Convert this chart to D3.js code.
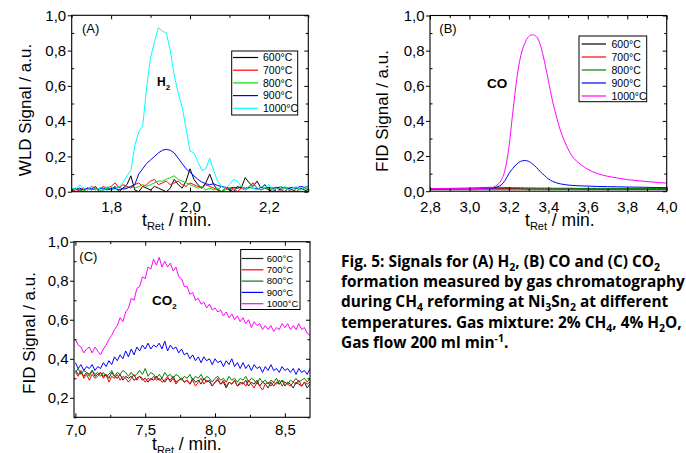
<!DOCTYPE html>
<html>
<head>
<meta charset="utf-8">
<script src="https://cdn.jsdelivr.net/npm/d3@7"></script>
<style>
  body { margin: 0; background: #fff; }
  svg text { font-family: "Liberation Sans", Arial, sans-serif; fill: #000; }
</style>
</head>
<body>
<svg id="main" width="686" height="453"></svg>
<script>
// legend entries
const temps = ["600°C", "700°C", "800°C", "900°C", "1000°C"];

// (A) H2, WLD signal, retention time in min
const timeA = [1.70,1.71,1.72,1.73,1.74,1.75,1.76,1.77,1.78,1.79,
  1.80,1.81,1.82,1.83,1.84,1.85,1.86,1.87,1.88,1.89,
  1.90,1.91,1.92,1.93,1.94,1.95,1.96,1.97,1.98,1.99,
  2.00,2.01,2.02,2.03,2.04,2.05,2.06,2.07,2.08,2.09,
  2.10,2.11,2.12,2.13,2.14,2.15,2.16,2.17,2.18,2.19,
  2.20,2.21,2.22,2.23,2.24,2.25,2.26,2.27,2.28,2.29,2.30];
const h2_600 = [.00,.02,.01,.00,.02,.01,.03,.00,.01,.02,
  .01,.03,.00,.02,.04,.09,.01,.00,.03,.02,
  .01,.03,.02,.01,.00,.02,.07,.04,.02,.06,
  .13,.07,.04,.02,.05,.10,.04,.01,.00,.02,
  .01,.00,.03,.02,.08,.05,.03,.06,.02,.04,
  .01,.00,.02,.01,.00,.02,.01,.00,.02,.01,.00];
const h2_700 = [.02,.00,.01,.02,.01,.03,.02,.01,.03,.02,
  .03,.05,.02,.04,.03,.02,.04,.05,.03,.04,
  .06,.07,.04,.05,.06,.04,.05,.06,.04,.03,
  .05,.04,.03,.02,.04,.03,.02,.01,.03,.02,
  .01,.02,.00,.02,.01,.03,.05,.02,.01,.02,
  .01,.02,.00,.01,.02,.01,.00,.02,.01,.02,.01];
const h2_800 = [.01,.02,.01,.00,.02,.01,.02,.00,.01,.02,
  .01,.02,.03,.01,.02,.03,.02,.03,.04,.03,
  .04,.05,.06,.06,.07,.08,.09,.07,.06,.05,
  .04,.03,.02,.03,.01,.02,.01,.02,.00,.01,
  .02,.01,.02,.03,.01,.02,.04,.02,.01,.02,
  .02,.01,.02,.03,.02,.01,.02,.02,.01,.02,.02];
const h2_900 = [.02,.01,.02,.01,.02,.02,.01,.02,.02,.01,
  .02,.02,.01,.02,.02,.03,.04,.10,.13,.16,
  .18,.20,.22,.235,.24,.235,.22,.19,.16,.13,
  .11,.09,.07,.055,.045,.04,.045,.035,.03,.025,
  .02,.025,.02,.025,.02,.025,.02,.015,.025,.02,
  .025,.02,.025,.02,.025,.02,.025,.02,.03,.025,.03];
const h2_1000 = [.02,.01,.04,.02,.01,.03,.01,.02,.00,.03,
  .02,.01,.03,.05,.09,.12,.26,.34,.37,.59,
  .76,.85,.93,.91,.90,.80,.66,.56,.48,.36,
  .23,.22,.17,.12,.13,.19,.12,.06,.03,.02,
  .04,.07,.06,.03,.01,.03,.02,.01,.03,.02,
  .04,.01,.02,.00,.03,.01,.02,.03,.01,.02,.03];

// (B) CO, FID signal
const timeB = [2.80,2.90,3.00,3.05,3.10,3.12,3.14,3.16,3.18,3.20,3.22,3.24,
  3.26,3.28,3.30,3.32,3.34,3.36,3.38,3.40,3.42,3.44,3.46,3.48,3.50,3.52,
  3.55,3.60,3.65,3.70,3.75,3.80,3.85,3.90,3.95,4.00];
const co_600 = [.014,.014,.014,.014,.014,.014,.014,.014,.014,.014,.014,.014,
  .014,.013,.013,.013,.013,.013,.013,.013,.013,.013,.013,.013,.013,.013,
  .013,.012,.012,.012,.012,.012,.012,.012,.012,.012];
const co_700 = [.012,.012,.012,.012,.012,.012,.012,.012,.012,.012,.012,.012,
  .012,.011,.011,.011,.011,.011,.011,.011,.011,.011,.011,.011,.011,.011,
  .011,.010,.010,.010,.010,.010,.010,.010,.010,.010];
const co_800 = [.015,.016,.018,.020,.022,.022,.022,.022,.021,.021,.020,.020,
  .020,.019,.019,.019,.018,.018,.018,.018,.017,.017,.017,.017,.017,.017,
  .016,.016,.016,.016,.016,.016,.016,.016,.015,.015];
const co_900 = [.012,.013,.014,.015,.016,.018,.024,.035,.060,.100,.130,.155,
  .170,.175,.170,.155,.135,.110,.090,.070,.057,.048,.042,.038,.035,.033,
  .031,.029,.027,.026,.025,.024,.023,.022,.021,.020];
const co_1000 = [.015,.015,.015,.016,.018,.022,.035,.060,.120,.250,.450,.640,
  .770,.840,.880,.890,.880,.830,.740,.630,.520,.430,.350,.290,.240,.200,
  .165,.125,.100,.085,.075,.066,.060,.055,.050,.046];

// (C) CO2, FID signal
const timeC = [7.00,7.02,7.04,7.06,7.08,7.10,7.12,7.14,7.16,7.18,
  7.20,7.22,7.24,7.26,7.28,7.30,7.32,7.34,7.36,7.38,
  7.40,7.42,7.44,7.46,7.48,7.50,7.52,7.54,7.56,7.58,
  7.60,7.62,7.64,7.66,7.68,7.70,7.72,7.74,7.76,7.78,
  7.80,7.82,7.84,7.86,7.88,7.90,7.92,7.94,7.96,7.98,
  8.00,8.02,8.04,8.06,8.08,8.10,8.12,8.14,8.16,8.18,
  8.20,8.22,8.24,8.26,8.28,8.30,8.32,8.34,8.36,8.38,
  8.40,8.42,8.44,8.46,8.48,8.50,8.52,8.54,8.56,8.58,
  8.60,8.62,8.64,8.66,8.68];
const co2_600 = [.34,.32,.33,.31,.33,.32,.34,.31,.32,.33,
  .31,.32,.30,.33,.31,.30,.32,.29,.31,.30,
  .31,.29,.30,.31,.29,.30,.28,.30,.29,.31,
  .29,.30,.28,.30,.29,.31,.28,.29,.30,.28,
  .29,.27,.30,.28,.29,.27,.30,.28,.29,.26,
  .28,.29,.27,.28,.25,.28,.27,.29,.26,.28,
  .27,.29,.26,.28,.27,.29,.26,.28,.27,.25,
  .28,.26,.28,.27,.29,.26,.28,.27,.25,.28,
  .27,.26,.28,.25,.27];
const co2_700 = [.33,.31,.34,.30,.32,.29,.32,.30,.31,.33,
  .30,.32,.28,.31,.30,.32,.29,.31,.30,.28,
  .30,.32,.29,.31,.30,.28,.30,.29,.31,.29,
  .30,.28,.29,.31,.28,.30,.27,.29,.30,.28,
  .29,.27,.29,.26,.28,.30,.27,.29,.28,.26,
  .28,.30,.27,.29,.26,.28,.27,.29,.26,.27,
  .28,.26,.29,.27,.25,.28,.26,.24,.27,.28,
  .26,.28,.27,.29,.26,.28,.27,.26,.28,.27,
  .29,.26,.28,.27,.28];
const co2_800 = [.33,.35,.32,.34,.33,.31,.34,.32,.33,.31,
  .33,.31,.32,.34,.31,.33,.32,.34,.33,.31,
  .33,.31,.32,.34,.32,.35,.31,.33,.32,.30,
  .32,.30,.33,.31,.32,.30,.32,.31,.29,.31,
  .30,.32,.29,.31,.30,.32,.29,.31,.30,.28,
  .30,.31,.29,.30,.28,.31,.29,.30,.28,.30,
  .29,.31,.28,.30,.29,.27,.30,.28,.29,.27,
  .29,.28,.30,.27,.29,.28,.27,.29,.28,.30,
  .28,.29,.30,.28,.30];
const co2_900 = [.38,.35,.37,.34,.36,.35,.37,.34,.36,.35,
  .38,.36,.39,.37,.41,.39,.42,.40,.44,.41,
  .45,.42,.46,.44,.47,.45,.48,.45,.47,.46,
  .48,.45,.49,.44,.47,.45,.46,.43,.45,.42,
  .43,.40,.42,.39,.41,.38,.41,.39,.40,.37,
  .40,.38,.39,.36,.39,.37,.40,.36,.38,.35,
  .38,.35,.37,.34,.37,.35,.36,.33,.36,.34,
  .37,.34,.35,.33,.36,.34,.35,.33,.35,.32,
  .35,.33,.34,.32,.35];
const co2_1000 = [.50,.47,.46,.43,.45,.46,.43,.46,.44,.42,
  .45,.47,.50,.52,.55,.57,.61,.59,.64,.66,
  .71,.70,.76,.77,.82,.81,.87,.86,.91,.88,
  .92,.87,.90,.87,.89,.85,.87,.82,.81,.77,
  .77,.73,.74,.70,.71,.68,.69,.66,.68,.65,
  .66,.64,.65,.62,.64,.61,.63,.60,.62,.59,
  .61,.58,.60,.56,.59,.57,.58,.55,.57,.55,
  .57,.54,.56,.55,.58,.56,.58,.55,.57,.55,
  .58,.55,.56,.53,.52];

// tick values
const yTicks01 = [0, 0.2, 0.4, 0.6, 0.8, 1.0];
const yMinor01 = [0.1, 0.3, 0.5, 0.7, 0.9];
const yTicksC = [0.2, 0.4, 0.6, 0.8, 1.0];
const yMinorC = [0.1, 0.3, 0.5, 0.7, 0.9];
const xTicksA = [1.8, 2.0, 2.2];
const xMinorA = [1.7, 1.9, 2.1, 2.3];
const xTicksB = [2.8, 3.0, 3.2, 3.4, 3.6, 3.8, 4.0];
const xMinorB = [2.9, 3.1, 3.3, 3.5, 3.7, 3.9];
const xTicksC = [7.0, 7.5, 8.0, 8.5];
const xMinorC = [7.25, 7.75, 8.25];

var fmt = d3.formatLocale({decimal: ",", thousands: ".", grouping: [3], currency: ["", ""]}).format(".1f");
var svg = d3.select("#main");

// text with sub / superscript parts: [string, "sub"|"sup"|""]
const richText = (sel, parts, small) => {
	var shift = 0;
	parts.forEach(function(p) {
		var t = sel.append("tspan").text(p[0]);
		var want = p[1] == "sub" ? 4 : (p[1] == "sup" ? -6 : 0);
		t.attr("dy", want - shift);
		if (p[1]) t.attr("font-size", small);
		shift = want;
	});
	return sel;
};

/**
* @desc draw one chromatogram panel
*/
const drawPanel = (p) => {
	var x = d3.scaleLinear().domain(p.xDomain).range([p.left, p.right]);
	var y = d3.scaleLinear().domain(p.yDomain).range([p.bottom, p.top]);
	var g = svg.append("g");

	svg.append("clipPath").attr("id", "clip" + p.name)
	  .append("rect")
	    .attr("x", p.left).attr("y", p.top)
	    .attr("width", p.right - p.left).attr("height", p.bottom - p.top);

	var line = d3.line()
	    .x(function(d) { return x(d[0]); })
	    .y(function(d) { return y(d[1]); });
	if (p.smooth) line.curve(d3.curveMonotoneX);

	var lines = g.append("g").attr("clip-path", "url(#clip" + p.name + ")");
	p.series.forEach(function(vals, k) {
		var pts = vals.map(function(v, i) { return [p.time[i], v]; });
		lines.append("path")
		    .datum(pts)
		    .attr("d", line)
		    .attr("fill", "none")
		    .attr("stroke", p.colors[k])
		    .attr("stroke-width", 1);
	});

	// axes, major ticks labelled, minor ticks plain
	var axes = [
		[d3.axisBottom(x).tickValues(p.xTicks).tickSize(-4).tickPadding(p.xPad).tickFormat(fmt), p.bottom, 0],
		[d3.axisBottom(x).tickValues(p.xMinor).tickSize(-2.5).tickFormat(""), p.bottom, 0],
		[d3.axisTop(x).tickValues(p.xTicks).tickSize(-4).tickFormat(""), p.top, 0],
		[d3.axisTop(x).tickValues(p.xMinor).tickSize(-2.5).tickFormat(""), p.top, 0],
		[d3.axisLeft(y).tickValues(p.yTicks).tickSize(4).tickPadding(1.5).tickFormat(fmt), 0, p.left],
		[d3.axisLeft(y).tickValues(p.yMinor).tickSize(-2.5).tickFormat(""), 0, p.left],
		[d3.axisRight(y).tickValues(p.yTicks).tickSize(-4).tickFormat(""), 0, p.right],
		[d3.axisRight(y).tickValues(p.yMinor).tickSize(-2.5).tickFormat(""), 0, p.right]
	];
	axes.forEach(function(a) {
		var ag = g.append("g")
		    .attr("transform", "translate(" + a[2] + "," + a[1] + ")")
		    .call(a[0]);
		ag.select(".domain").remove();
		ag.selectAll("line").attr("stroke", "#000");
		ag.attr("font-family", null).attr("font-size", 15);
		ag.selectAll("text").style("font-size", "15px");
	});

	g.append("rect")
	    .attr("x", p.left).attr("y", p.top)
	    .attr("width", p.right - p.left).attr("height", p.bottom - p.top)
	    .attr("fill", "none").attr("stroke", "#000").attr("stroke-width", 1.1);

	// axis titles
	g.append("text")
	    .attr("transform", "translate(" + p.yTitleX + "," + p.yTitleY + ") rotate(-90)")
	    .attr("text-anchor", "middle")
	    .attr("font-size", 17)
	    .text(p.yTitle);
	var xt = g.append("text")
	    .attr("x", p.xTitleX).attr("y", p.xTitleY)
	    .attr("font-size", 17.5);
	richText(xt, [["t", ""], ["Ret", "sub"], [" / min.", ""]], 11);

	// panel letter and species
	g.append("text").attr("x", p.letterX).attr("y", p.letterY)
	    .attr("font-size", 13).text(p.letter);
	var sp = g.append("text").attr("x", p.specX).attr("y", p.specY)
	    .attr("font-size", p.specSize).attr("font-weight", "bold");
	richText(sp, p.species, 8);

	// legend
	var L = p.legend;
	g.append("rect")
	    .attr("x", L.x0).attr("y", L.y0)
	    .attr("width", L.x1 - L.x0).attr("height", L.y1 - L.y0)
	    .attr("fill", "#fff").attr("stroke", "#000").attr("stroke-width", 1);
	temps.forEach(function(t, k) {
		var ry = L.row0 + k * L.step;
		g.append("line")
		    .attr("x1", L.lx0).attr("x2", L.lx1)
		    .attr("y1", ry).attr("y2", ry)
		    .attr("stroke", p.colors[k]).attr("stroke-width", 1.2);
		g.append("text")
		    .attr("x", L.tx).attr("y", ry)
		    .attr("dy", "0.35em")
		    .attr("font-size", L.size)
		    .text(t);
	});
};

drawPanel({
	name: "A", left: 71.7, right: 308.3, top: 15.3, bottom: 191.7,
	xDomain: [1.7, 2.3], yDomain: [0, 1], xPad: 10,
	xTicks: xTicksA, xMinor: xMinorA, yTicks: yTicks01, yMinor: yMinor01,
	time: timeA, series: [h2_600, h2_700, h2_800, h2_900, h2_1000],
	colors: ["#000000", "#ff0000", "#00e000", "#0000ff", "#00ffff"],
	yTitle: "WLD Signal / a.u.", yTitleX: 31, yTitleY: 110,
	xTitleX: 142, xTitleY: 225.5,
	letter: "(A)", letterX: 82, letterY: 33,
	species: [["H", ""], ["2", "sub"]], specX: 157, specY: 86, specSize: 12,
	legend: {x0: 231.7, y0: 51, x1: 297.7, y1: 115, row0: 57.5, step: 12.7,
		lx0: 233, lx1: 258, tx: 263, size: 10.5},
	smooth: false
});

drawPanel({
	name: "B", left: 430, right: 666.7, top: 15.5, bottom: 191.2,
	xDomain: [2.8, 4.0], yDomain: [0, 1], xPad: 10,
	xTicks: xTicksB, xMinor: xMinorB, yTicks: yTicks01, yMinor: yMinor01,
	time: timeB, series: [co_600, co_700, co_800, co_900, co_1000],
	colors: ["#000000", "#ff0000", "#008000", "#0000ff", "#ff00ff"],
	yTitle: "FID Signal / a.u.", yTitleX: 388, yTitleY: 111,
	xTitleX: 525, xTitleY: 225.5,
	letter: "(B)", letterX: 439.3, letterY: 33.3,
	species: [["CO", ""]], specX: 487, specY: 88, specSize: 13.5,
	legend: {x0: 579, y0: 36, x1: 646.7, y1: 101.7, row0: 44, step: 13,
		lx0: 581.7, lx1: 606, tx: 611.5, size: 10.5},
	smooth: true
});

drawPanel({
	name: "C", left: 74, right: 310, top: 241.7, bottom: 417.3,
	xDomain: [6.99, 8.68], yDomain: [0.1, 1.0], xPad: 7,
	xTicks: xTicksC, xMinor: xMinorC, yTicks: yTicksC, yMinor: yMinorC,
	time: timeC, series: [co2_600, co2_700, co2_800, co2_900, co2_1000],
	colors: ["#222222", "#ff0000", "#008000", "#0000ff", "#ff00ff"],
	yTitle: "FID Signal / a.u.", yTitleX: 35, yTitleY: 333,
	xTitleX: 152, xTitleY: 450,
	letter: "(C)", letterX: 79.3, letterY: 261,
	species: [["CO", ""], ["2", "sub"]], specX: 152, specY: 305, specSize: 13.5,
	legend: {x0: 240.7, y0: 249.5, x1: 300, y1: 309.5, row0: 258.5, step: 11.3,
		lx0: 241.7, lx1: 263.3, tx: 266.7, size: 9.5},
	smooth: false
});

// figure caption
const caption = [
	[["Fig. 5: Signals for (A) H", ""], ["2", "sub"], [", (B) CO and (C) CO", ""], ["2", "sub"]],
	[["formation measured by gas chromatography", ""]],
	[["during CH", ""], ["4", "sub"], [" reforming at Ni", ""], ["3", "sub"], ["Sn", ""], ["2", "sub"], [" at different", ""]],
	[["temperatures. Gas mixture: 2% CH", ""], ["4", "sub"], [", 4% H", ""], ["2", "sub"], ["O,", ""]],
	[["Gas flow 200 ml min", ""], ["-1", "sup"], [".", ""]]
];
caption.forEach(function(parts, i) {
	var t = svg.append("text")
	    .attr("x", 341).attr("y", 266.7 + i * 20.3)
	    .attr("font-size", 15.4)
	    .attr("font-weight", "bold")
	    .style("font-family", "'Open Sans', sans-serif");
	richText(t, parts, 10.5);
});
</script>
</body>
</html>
